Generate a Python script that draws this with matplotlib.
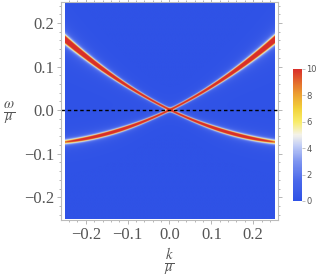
import numpy as np
import matplotlib.pyplot as plt
from matplotlib.colors import LinearSegmentedColormap

# dispersion: w = +-v*k + a*k^2
v = 0.47
a = 0.70
# broadening / weight of the branches (upper stays sharp red, lower fades to yellow)
gam0 = 0.00015
gam2 = 0.07
gneg = 125.0
e0 = 0.045
vmax = 10

k_range = [-0.25, 0.25]
w_range = [-0.25, 0.25]
xticks = [-0.2, -0.1, 0.0, 0.1, 0.2]
yticks = [-0.2, -0.1, 0.0, 0.1, 0.2]
tick_labels = ['\u22120.2', '\u22120.1', '0.0', '0.1', '0.2']
cbar_ticks = [0, 2, 4, 6, 8, 10]

cols = [(0.0, '#2f52e6'), (0.15, '#4a68ea'), (0.3, '#7e95f0'),
        (0.42, '#c2cef6'), (0.5, '#f4f2ea'), (0.6, '#f8ec6a'),
        (0.7, '#f2d23a'), (0.82, '#eb9a30'), (1.0, '#d92f2a')]
cmap = LinearSegmentedColormap.from_list('temp', cols)

k = np.linspace(k_range[0], k_range[1], 600)
w = np.linspace(w_range[0], w_range[1], 800)
K, W = np.meshgrid(k, w)

def spec(E):
    neg = E < 0
    g = gam0 + gam2 * E**2 + gneg * E**4 * neg
    z = np.where(neg, 1 / (1 + (E / e0)**4), 1.0)
    return z * g / np.pi / ((W - E)**2 + g**2)

A = spec(v*K + a*K**2) + spec(-v*K + a*K**2)
A = np.clip(A, 0, vmax)

plt.rcParams['font.family'] = ['Liberation Serif', 'DejaVu Serif']
plt.rcParams['mathtext.fontset'] = 'stix'
gray = '#555555'

fig = plt.figure(figsize=(3.18, 2.78), dpi=100)
ax = fig.add_axes([0.192, 0.209, 0.682, 0.785])
im = ax.imshow(A, origin='lower', extent=[k_range[0], k_range[1], w_range[0], w_range[1]],
               cmap=cmap, vmin=0, vmax=vmax, aspect='auto', interpolation='bilinear')
ax.axhline(0, color='black', ls=(0, (2.5, 2)), lw=1.0)
ax.set_xlim(-0.259, 0.259)
ax.set_ylim(-0.252, 0.249)
ax.set_xticks(xticks)
ax.set_yticks(yticks)
ax.set_xticklabels(tick_labels)
ax.set_yticklabels(tick_labels)
ax.set_xticks(np.arange(-0.24, 0.25, 0.02), minor=True)
ax.set_yticks(np.arange(-0.24, 0.25, 0.02), minor=True)
ax.tick_params(which='both', direction='out', colors='#aaaaaa', labelcolor=gray,
               labelsize=12, top=True, right=True, width=0.6)
ax.tick_params(which='major', length=3, pad=2)
ax.tick_params(which='minor', length=1.5)
for s in ax.spines.values():
    s.set_color('#bbbbbb')
    s.set_linewidth(0.8)

fig.text(0.532, 0.058, r'$\frac{k}{\mu}$', color=gray, fontsize=15, ha='center', va='center')
fig.text(0.028, 0.594, r'$\frac{\omega}{\mu}$', color=gray, fontsize=15, ha='center', va='center')

cax = fig.add_axes([0.921, 0.277, 0.029, 0.475])
cb = fig.colorbar(im, cax=cax, ticks=cbar_ticks)
cb.outline.set_visible(False)
cax.tick_params(labelsize=6, colors='#aaaaaa', labelcolor=gray, length=2, width=0.5, pad=1)
for t in cax.get_yticklabels():
    t.set_family('DejaVu Sans')

fig.savefig('out.png', dpi=100)
